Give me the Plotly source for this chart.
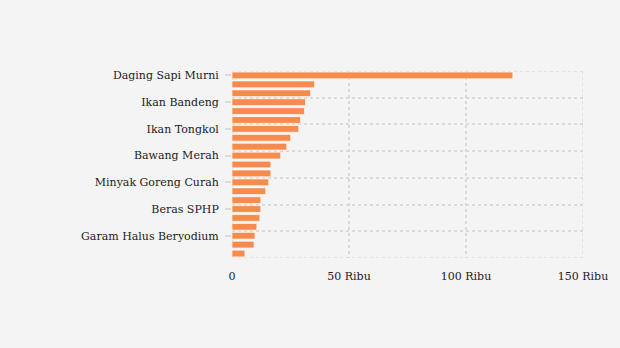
import plotly.graph_objects as go

categories = [
    "Daging Sapi Murni", "Daging Ayam Ras", "Ikan Kembung", "Ikan Bandeng",
    "Bawang Putih Bonggol", "Cabai Rawit Merah", "Ikan Tongkol", "Telur Ayam Ras",
    "Cabai Merah Keriting", "Bawang Merah", "Minyak Goreng Kemasan", "Gula Konsumsi",
    "Minyak Goreng Curah", "Beras Premium", "Beras Medium", "Beras SPHP",
    "Tepung Terigu Kemasan", "Kedelai Biji Kering", "Garam Halus Beryodium",
    "Tepung Terigu Curah", "Jagung Tk Peternak",
]
values = [
    120000, 35300, 33600, 31400, 31000, 29300, 28500, 25100, 23400, 20800,
    16600, 16600, 15700, 14400, 12300, 12300, 11900, 10600, 9800, 9400, 5500,
]
shown_labels = ["Daging Sapi Murni", "Ikan Bandeng", "Ikan Tongkol", "Bawang Merah",
                "Minyak Goreng Curah", "Beras SPHP", "Garam Halus Beryodium"]
x_tickvals = [0, 50000, 100000, 150000]
x_ticktext = ["0", "50 Ribu", "100 Ribu", "150 Ribu"]

idx = list(range(len(categories)))
label_pos = [categories.index(c) for c in shown_labels]
band_edges = [p - 0.5 for p in label_pos] + [len(categories) - 0.5]
y_lo, y_hi = -0.5, len(categories) - 0.5
x_lo, x_hi = x_tickvals[0], x_tickvals[-1]

fig = go.Figure(go.Bar(
    x=values, y=idx, orientation="h", width=0.75,
    marker=dict(color="#F58B4C", line=dict(color="rgba(255,255,255,0.6)", width=1)),
    text=categories, hoverinfo="text+x", textposition="none",
))

grid = dict(color="#DADADA", width=1.5, dash="dot")
for yv in (y_lo, y_hi):
    fig.add_shape(type="line", xref="x", yref="y", x0=x_lo, x1=x_hi, y0=yv, y1=yv,
                  line=grid, layer="below")
for xv in (x_lo, x_hi):
    fig.add_shape(type="line", xref="x", yref="y", x0=xv, x1=xv, y0=y_lo, y1=y_hi,
                  line=grid, layer="below")

font = dict(family="DejaVu Serif", size=11, color="#222")
fig.update_layout(
    width=620, height=348,
    margin=dict(l=232, r=35, t=71, b=90),
    paper_bgcolor="#F4F4F4", plot_bgcolor="#F4F4F4",
    font=font, showlegend=False,
    xaxis=dict(
        range=[x_lo, x_hi], tickvals=x_tickvals, ticktext=x_ticktext,
        showgrid=True, gridcolor="#DADADA", griddash="dot", gridwidth=1.5,
        zeroline=False, showline=False, ticks="outside", ticklen=8,
        tickcolor="rgba(0,0,0,0)", tickfont=font,
    ),
    yaxis=dict(
        range=[y_hi, y_lo],
        tickvals=label_pos, ticktext=shown_labels,
        showgrid=False, zeroline=False, showline=False,
        ticks="outside", ticklen=6, tickcolor="#DADADA", tickwidth=1.5,
        ticklabelstandoff=4, tickfont=font,
        minor=dict(tickvals=band_edges, showgrid=True, gridcolor="#DADADA",
                   griddash="dot", gridwidth=1.5, ticks=""),
    ),
)
fig.write_html("out.html")
